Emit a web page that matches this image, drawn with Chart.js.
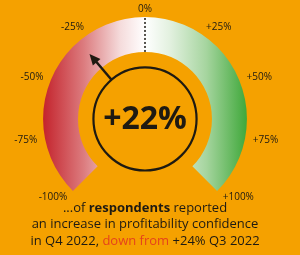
<!DOCTYPE html>
<html>
<head>
<meta charset="utf-8">
<script src="https://cdn.jsdelivr.net/npm/chart.js@4.4.1/dist/chart.umd.min.js"></script>
<style>
  html, body { margin: 0; padding: 0; background: #f5a100; }
  #wrap { width: 300px; height: 255px; position: relative; }
</style>
</head>
<body>
<div id="wrap"><canvas id="gauge"></canvas></div>
<script>
// gauge data
const gaugeMin = -100;
const gaugeMax = 100;
const tickValues = [-100, -75, -50, -25, 0, 25, 50, 75, 100];
const tickLabels = ['-100%', '-75%', '-50%', '-25%', '0%', '+25%', '+50%', '+75%', '+100%'];
const needleValue = -30;
const headline = '+22%';
const captionLines = [
    [['...of ', 'normal'], ['respondents', 'bold'], [' reported', 'normal']],
    [['an increase in profitability confidence', 'normal']],
    [['in Q4 2022, ', 'normal'], ['down from', 'red'], [' +24% Q3 2022', 'normal']]
];

const ink = '#1e1a12';
const fontFamily = '"Open Sans", sans-serif';

function valueAngle(arc, v) {
    const t = (v - gaugeMin) / (gaugeMax - gaugeMin);
    return arc.startAngle + t * (arc.endAngle - arc.startAngle);
}

const gaugeExtras = {
    id: 'gaugeExtras',
    beforeDatasetsDraw(chart) {
        // horizontal red -> white -> green fill across the ring
        const arc = chart.getDatasetMeta(0).data[0];
        const g = chart.ctx.createLinearGradient(arc.x - arc.outerRadius, 0, arc.x + arc.outerRadius, 0);
        g.addColorStop(0, '#c4232c');
        g.addColorStop(0.2, '#dc7c7f');
        g.addColorStop(0.38, '#f5dcdc');
        g.addColorStop(0.5, '#ffffff');
        g.addColorStop(0.62, '#e3f1e0');
        g.addColorStop(0.8, '#a6d59f');
        g.addColorStop(1, '#3fa83a');
        arc.options.backgroundColor = g;
    },
    afterDatasetsDraw(chart) {
        const ctx = chart.ctx;
        const arc = chart.getDatasetMeta(0).data[0];
        const cx = arc.x, cy = arc.y;
        const R = arc.outerRadius, r = arc.innerRadius;

        ctx.save();
        // dotted zero line
        const a0 = valueAngle(arc, 0);
        ctx.strokeStyle = ink;
        ctx.lineWidth = 1.5;
        ctx.setLineDash([2, 2]);
        ctx.beginPath();
        ctx.moveTo(cx + Math.cos(a0) * r, cy + Math.sin(a0) * r);
        ctx.lineTo(cx + Math.cos(a0) * R, cy + Math.sin(a0) * R);
        ctx.stroke();
        ctx.setLineDash([]);

        // inner ring
        const ringR = r * 0.77;
        ctx.lineWidth = 2.2;
        ctx.beginPath();
        ctx.arc(cx, cy, ringR, 0, Math.PI * 2);
        ctx.stroke();

        // needle
        const an = valueAngle(arc, needleValue);
        const tipR = (r + R) / 2 + 1;
        const ux = Math.cos(an), uy = Math.sin(an);
        const px = -uy, py = ux;
        const headLen = 11, headW = 5;
        ctx.lineWidth = 2.5;
        ctx.beginPath();
        ctx.moveTo(cx + ux * ringR, cy + uy * ringR);
        ctx.lineTo(cx + ux * (tipR - headLen + 1), cy + uy * (tipR - headLen + 1));
        ctx.stroke();
        ctx.fillStyle = ink;
        ctx.beginPath();
        ctx.moveTo(cx + ux * tipR, cy + uy * tipR);
        ctx.lineTo(cx + ux * (tipR - headLen) + px * headW, cy + uy * (tipR - headLen) + py * headW);
        ctx.lineTo(cx + ux * (tipR - headLen) - px * headW, cy + uy * (tipR - headLen) - py * headW);
        ctx.closePath();
        ctx.fill();

        // headline
        ctx.font = 'bold 32px ' + fontFamily;
        ctx.textAlign = 'center';
        ctx.textBaseline = 'middle';
        ctx.fillText(headline, cx, cy + 1);

        // tick labels
        ctx.font = '10px ' + fontFamily;
        tickValues.forEach((v, i) => {
            const a = valueAngle(arc, v);
            const lr = R + 8;
            const lx = cx + Math.cos(a) * lr;
            const ly = cy + Math.sin(a) * lr;
            const c = Math.cos(a);
            ctx.textAlign = Math.abs(c) < 0.2 ? 'center' : (c < 0 ? 'right' : 'left');
            ctx.fillText(tickLabels[i], lx, ly);
        });

        // caption
        const fontFor = s => (s === 'bold' ? 'bold ' : '') + '13px ' + fontFamily;
        ctx.textAlign = 'left';
        captionLines.forEach((line, li) => {
            let w = 0;
            line.forEach(([t, s]) => { ctx.font = fontFor(s); w += ctx.measureText(t).width; });
            let x = cx - w / 2;
            const y = 208 + li * 16.5;
            line.forEach(([t, s]) => {
                ctx.font = fontFor(s);
                ctx.fillStyle = s === 'red' ? '#e5421c' : ink;
                ctx.fillText(t, x, y);
                x += ctx.measureText(t).width;
            });
        });
        ctx.restore();
    }
};

new Chart(document.getElementById('gauge'), {
    type: 'doughnut',
    data: {
        labels: ['range'],
        datasets: [{
            data: [gaugeMax - gaugeMin],
            backgroundColor: '#ffffff',
            borderWidth: 0
        }]
    },
    options: {
        responsive: true,
        maintainAspectRatio: false,
        animation: false,
        rotation: -135,
        circumference: 270,
        cutout: '65.7%',
        layout: { padding: { top: 17, bottom: 64, left: 0, right: 10 } },
        plugins: {
            legend: { display: false },
            tooltip: { enabled: false }
        }
    },
    plugins: [gaugeExtras]
});
</script>
</body>
</html>
